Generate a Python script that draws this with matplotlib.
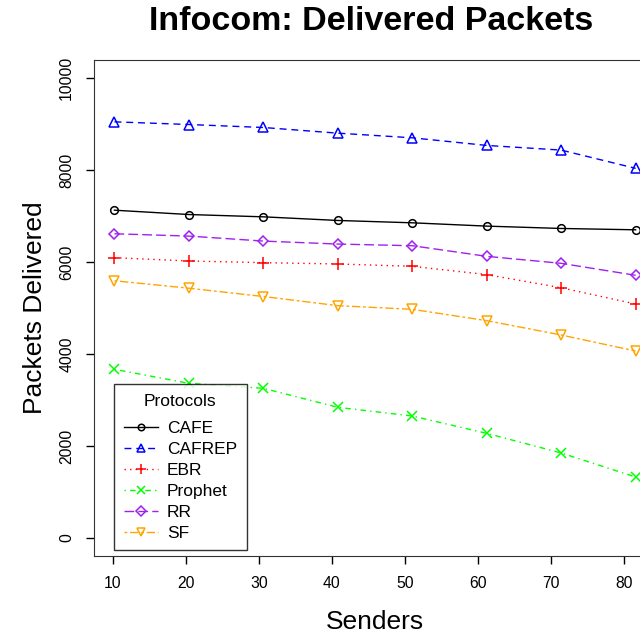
import matplotlib.pyplot as plt

# ===== data =====
senders = [10.2, 20.4, 30.6, 40.8, 51.0, 61.2, 71.4, 81.6]
cafe = [7126, 7032, 6982, 6903, 6852, 6780, 6729, 6700]
cafrep = [9047, 8989, 8924, 8801, 8700, 8534, 8433, 8036]
ebr = [6094, 6022, 5986, 5957, 5906, 5726, 5440, 5087]
prophet = [3667, 3362, 3254, 2841, 2652, 2275, 1848, 1326]
rr = [6614, 6563, 6455, 6390, 6354, 6123, 5971, 5711]
sf = [5592, 5430, 5250, 5051, 4971, 4725, 4413, 4065]

protocols = ['CAFE', 'CAFREP', 'EBR', 'Prophet', 'RR', 'SF']
series = [cafe, cafrep, ebr, prophet, rr, sf]
colors = ['black', '#0000FF', '#FF0000', '#00FF00', '#A020F0', '#FFA500']
markers = ['o', '^', '+', 'x', 'D', 'v']
msizes = [5.5, 7, 8.5, 6.5, 5.5, 7]
dashes = [None, (5, 3.5), (1, 3), (1, 3, 4, 3), (7, 3), (2, 2, 6, 2)]

x_ticks = [10, 20, 30, 40, 50, 60, 70, 80]
y_ticks = [0, 2000, 4000, 6000, 8000, 10000]

plt.rcParams['font.family'] = ['Liberation Sans', 'DejaVu Sans']

fig = plt.figure(figsize=(6.4, 6.36), dpi=100)
ax = fig.add_axes([93.6 / 640, 1 - 556.4 / 636, (656.5 - 93.6) / 640, (556.4 - 59.6) / 636])

for name, vals, c, m, ms, d in zip(protocols, series, colors, markers, msizes, dashes):
    line, = ax.plot(senders, vals, color=c, marker=m, markersize=ms, linewidth=1.0,
                    markerfacecolor='none', markeredgecolor=c, markeredgewidth=1.1,
                    label=name)
    if d is not None:
        line.set_dashes(d)

ax.set_xlim(7.34, 84.46)
ax.set_ylim(-400, 10400)
ax.set_xticks(x_ticks)
ax.set_yticks(y_ticks)
ax.set_yticklabels([str(v) for v in y_ticks], rotation=90, va='center')
ax.tick_params(direction='out', length=6, width=1, labelsize=11.3, pad=8)
for s in ax.spines.values():
    s.set_color('#333333')

ax.set_xlabel('Senders', fontsize=19, labelpad=14)
ax.set_ylabel('Packets Delivered', fontsize=19, labelpad=9)
fig.text(371 / 640, 1 - 22 / 636, 'Infocom: Delivered Packets', fontsize=24.5,
         fontweight='bold', ha='center', va='center')

leg = ax.legend(title='Protocols', loc='upper left',
                bbox_to_anchor=(114 / 640, 1 - 384 / 636),
                bbox_transform=fig.transFigure, fontsize=12.5, title_fontsize=12.5,
                frameon=True, fancybox=False, handlelength=2.0, borderpad=0.55,
                labelspacing=0.33, handletextpad=0.5, borderaxespad=0,
                markerscale=0.85)
# wider gap between the title and the first entry, like the R legend
leg._legend_box.sep = 9
leg.get_frame().set_edgecolor('black')
leg.get_frame().set_linewidth(1.0)

fig.savefig('out.png', dpi=100)
